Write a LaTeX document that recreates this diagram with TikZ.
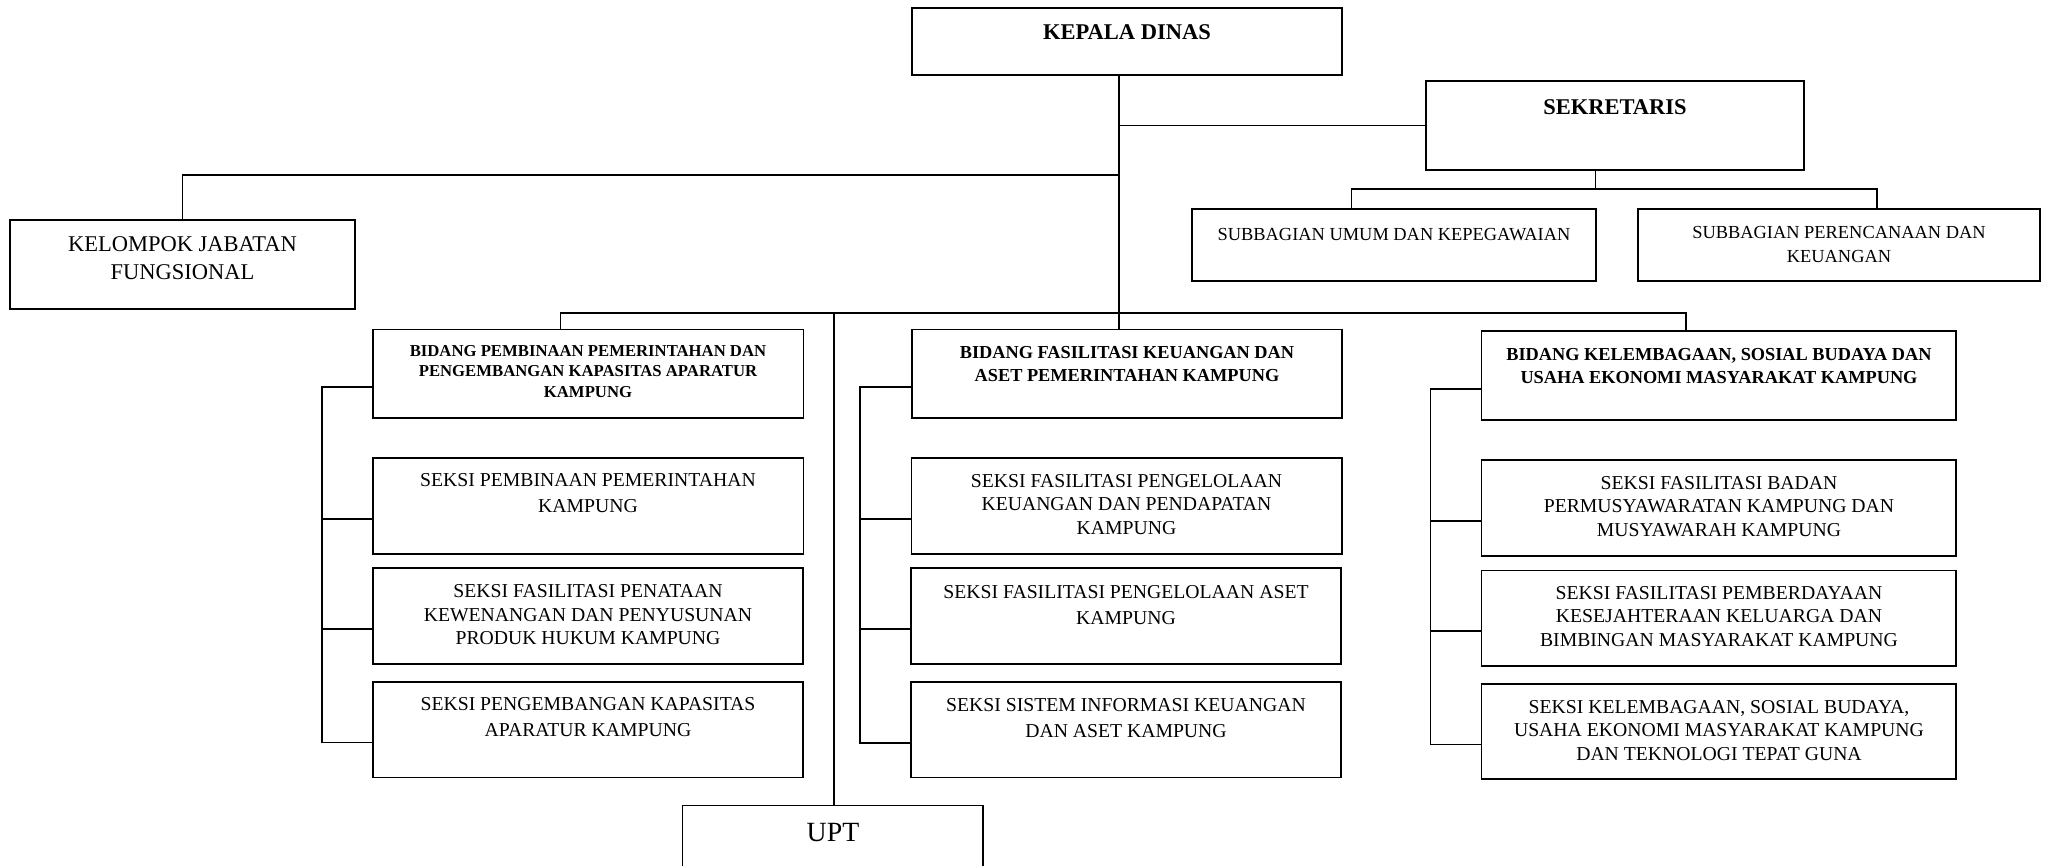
\documentclass[tikz,border=0pt]{standalone}
\usepackage{fontspec}
\setmainfont{Liberation Serif}
\usetikzlibrary{fit}
\begin{document}
\begin{tikzpicture}[x=0.5pt,y=-0.5pt,
  box/.style={draw, line width=0.9pt, inner sep=0pt, rectangle},
  ln/.style={line width=0.8pt},
  txt/.style={anchor=north, inner sep=0pt, align=center},
  fhead/.style={font=\fontsize{11.25pt}{14pt}\selectfont\bfseries},
  fbidA/.style={font=\fontsize{8.35pt}{10.2pt}\selectfont\bfseries},
  fbid/.style={font=\fontsize{9.15pt}{11.2pt}\selectfont\bfseries},
  fsk/.style={font=\fontsize{9.85pt}{11.75pt}\selectfont},
  fskw/.style={font=\fontsize{9.85pt}{12.9pt}\selectfont},
  fsub/.style={font=\fontsize{9.2pt}{12.2pt}\selectfont},
  fkel/.style={font=\fontsize{11.25pt}{14pt}\selectfont},
  fupt/.style={font=\fontsize{13.9pt}{16pt}\selectfont}]
\useasboundingbox (0,0) rectangle (2047,866);

% boxes
\node[box, fit={(912,8) (1342,75)}] (kd) {};
\node[box, fit={(1426,81) (1804,170)}] (sk) {};
\node[box, fit={(1192,209) (1596,281)}] (su1) {};
\node[box, fit={(1638,209) (2040,281)}] (su2) {};
\node[box, fit={(10,220) (355,309)}] (kj) {};
\node[box, fit={(373,329.6) (803.5,418.4)}] (b1) {};
\node[box, fit={(912,329.6) (1342,418.4)}] (b2) {};
\node[box, fit={(1481.5,331.4) (1956,420.2)}] (b3) {};
\node[box, fit={(373,458.2) (803.5,554)}] (s11) {};
\node[box, fit={(373,568.2) (803,663.8)}] (s12) {};
\node[box, fit={(373,681.8) (803,777.4)}] (s13) {};
\node[box, fit={(911.5,458.2) (1342,554)}] (s21) {};
\node[box, fit={(911,568.2) (1341,663.8)}] (s22) {};
\node[box, fit={(911,682) (1341,777.4)}] (s23) {};
\node[box, fit={(1481.5,460.3) (1956,556)}] (s31) {};
\node[box, fit={(1481.5,570.4) (1956,665.7)}] (s32) {};
\node[box, fit={(1481.5,683.8) (1956,778.8)}] (s33) {};
\node[box, fit={(682.5,805.5) (983,872)}] (up) {};

% texts
\node[txt, fhead] (t-kd) at (1127,24.5) {KEPALA DINAS};
\node[txt, fhead] (t-sk) at (1615,99.5) {SEKRETARIS};
\node[txt, fsub] (t-su1) at (1394,228) {SUBBAGIAN UMUM DAN KEPEGAWAIAN};
\node[txt, fsub] (t-su2) at (1839,226) {SUBBAGIAN PERENCANAAN DAN\\KEUANGAN};
\node[txt, fkel] (t-kj) at (182.5,236.5) {KELOMPOK JABATAN\\FUNGSIONAL};
\node[txt, fbidA] (t-b1) at (588,345) {BIDANG PEMBINAAN PEMERINTAHAN DAN\\PENGEMBANGAN KAPASITAS APARATUR\\KAMPUNG};
\node[txt, fbid] (t-b2) at (1127,346.2) {BIDANG FASILITASI KEUANGAN DAN\\ASET PEMERINTAHAN KAMPUNG};
\node[txt, fbid] (t-b3) at (1719,348.1) {BIDANG KELEMBAGAAN, SOSIAL BUDAYA DAN\\USAHA EKONOMI MASYARAKAT KAMPUNG};
\node[txt, fskw] (t-s11) at (588,473.3) {SEKSI PEMBINAAN PEMERINTAHAN\\KAMPUNG};
\node[txt, fsk] (t-s12) at (588,584.1) {SEKSI FASILITASI PENATAAN\\KEWENANGAN DAN PENYUSUNAN\\PRODUK HUKUM KAMPUNG};
\node[txt, fskw] (t-s13) at (588,696.8) {SEKSI PENGEMBANGAN KAPASITAS\\APARATUR KAMPUNG};
\node[txt, fsk] (t-s21) at (1126.5,474) {SEKSI FASILITASI PENGELOLAAN\\KEUANGAN DAN PENDAPATAN\\KAMPUNG};
\node[txt, fskw] (t-s22) at (1126,585.2) {SEKSI FASILITASI PENGELOLAAN ASET\\KAMPUNG};
\node[txt, fskw] (t-s23) at (1126,697.8) {SEKSI SISTEM INFORMASI KEUANGAN\\DAN ASET KAMPUNG};
\node[txt, fsk] (t-s31) at (1719,475.8) {SEKSI FASILITASI BADAN\\PERMUSYAWARATAN KAMPUNG DAN\\MUSYAWARAH KAMPUNG};
\node[txt, fsk] (t-s32) at (1719,585.9) {SEKSI FASILITASI PEMBERDAYAAN\\KESEJAHTERAAN KELUARGA DAN\\BIMBINGAN MASYARAKAT KAMPUNG};
\node[txt, fsk] (t-s33) at (1719,699.6) {SEKSI KELEMBAGAAN, SOSIAL BUDAYA,\\USAHA EKONOMI MASYARAKAT KAMPUNG\\DAN TEKNOLOGI TEPAT GUNA};
\node[txt, fupt] (t-up) at (833,823.3) {UPT};

% junction coordinates
\coordinate (tk) at (1119,0);
\coordinate (jk) at (1119,175);
\coordinate (sd) at (1595.5,189);
\coordinate (sa) at (1351.5,189);
\coordinate (sb) at (1876.7,189);
\coordinate (ba) at (560.5,313.3);
\coordinate (bc) at (1686,313.3);
\coordinate (uj) at (834,313.3);

% connectors
\draw[ln] (tk |- kd.south) -- (tk |- b2.north);
\draw[ln] (sk.west) -- (sk.west -| tk);
\draw[ln] (kj.north) |- (jk);
\draw[ln] (sd |- sk.south) -- (sd);
\draw[ln] (sa |- su1.north) -- (sa) -- (sb) -- (sb |- su2.north);
\draw[ln] (ba |- b1.north) -- (ba) -- (bc) -- (bc |- b3.north);
\draw[ln] (uj) -- (uj |- up.north);

% brackets
\draw[ln] ([yshift=-6.5pt]b1.west) -- ++(-50,0) |- ([yshift=-6.5pt]s13.west);
\draw[ln] ([yshift=-6.5pt]s11.west) -- ++(-50,0);
\draw[ln] ([yshift=-6.5pt]s12.west) -- ++(-50,0);
\draw[ln] ([yshift=-6.5pt]b2.west) -- ++(-51,0) |- ([yshift=-6.5pt]s23.west);
\draw[ln] ([yshift=-6.5pt]s21.west) -- ++(-51,0);
\draw[ln] ([yshift=-6.5pt]s22.west) -- ++(-51,0);
\draw[ln] ([yshift=-6.5pt]b3.west) -- ++(-50,0) |- ([yshift=-6.5pt]s33.west);
\draw[ln] ([yshift=-6.5pt]s31.west) -- ++(-50,0);
\draw[ln] ([yshift=-6.5pt]s32.west) -- ++(-50,0);
\end{tikzpicture}
\end{document}
